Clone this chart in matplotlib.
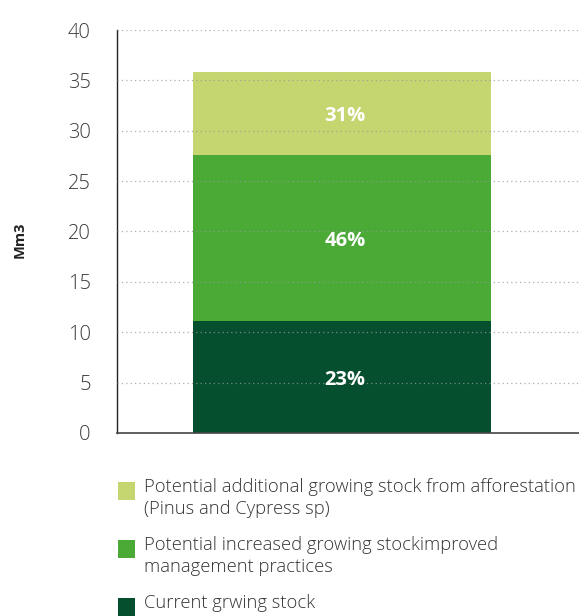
import matplotlib
matplotlib.use("Agg")
import matplotlib.pyplot as plt
from matplotlib.patches import Rectangle

# stacked segments, bottom to top
segments = ["Current grwing stock",
            "Potential increased growing stockimproved\nmanagement practices",
            "Potential additional growing stock from afforestation\n(Pinus and Cypress sp)"]
values = [11.1, 16.5, 8.2]
shares = ["23%", "46%", "31%"]
colors = ["#054f2e", "#4aaa35", "#c5d56f"]
yticks = [0, 5, 10, 15, 20, 25, 30, 35, 40]

plt.rcParams['font.family'] = ['Open Sans', 'DejaVu Sans']

W, H = 579, 616
fig = plt.figure(figsize=(W / 100, H / 100), dpi=100)
ax = fig.add_axes([117 / W, 1 - 433 / H, 462 / W, 403 / H])

bottom = 0
for v, s, c in zip(values, shares, colors):
    ax.bar(0, v, width=1, bottom=bottom, color=c, zorder=1)
    ax.text(0.01, bottom + v / 2, s, ha='center', va='center_baseline', color='white',
            fontsize=14.5, fontweight='bold', zorder=3)
    bottom += v

ax.set_xlim(-0.755, 0.795)
ax.set_ylim(0, 40)
ax.set_yticks(yticks)
ax.set_xticks([])
ax.yaxis.grid(True, linestyle=(0, (1, 2.5)), color='#999999', linewidth=0.9, alpha=0.8, zorder=2)
ax.set_axisbelow(False)
for sp in ['top', 'right']:
    ax.spines[sp].set_visible(False)
ax.spines['left'].set_color('#222222')
ax.spines['bottom'].set_color('#444444')
ax.spines['left'].set_linewidth(1.0)
ax.spines['bottom'].set_linewidth(1.2)
ax.tick_params(axis='y', length=0, pad=19, labelsize=14.5, labelcolor='#3a3a3a')
for lab in ax.get_yticklabels():
    lab.set_fontweight('light')

fig.text(20 / W, 1 - 240 / H, "Mm3", rotation=90, ha='center', va='center',
         fontsize=10.5, fontweight='bold', color='#222222')

# legend, top to bottom
leg_tops = [482, 540, 598]
for top, lab, c in zip(leg_tops, segments[::-1], colors[::-1]):
    fig.patches.append(Rectangle((118 / W, 1 - (top + 18) / H), 17 / W, 18 / H,
                                 transform=fig.transFigure, facecolor=c,
                                 edgecolor='none'))
    fig.text(144 / W, 1 - (top - 4) / H, lab, ha='left', va='top',
             fontsize=13.2, color='#333333', fontweight='light', linespacing=1.27)

fig.savefig("out.png", dpi=100)
